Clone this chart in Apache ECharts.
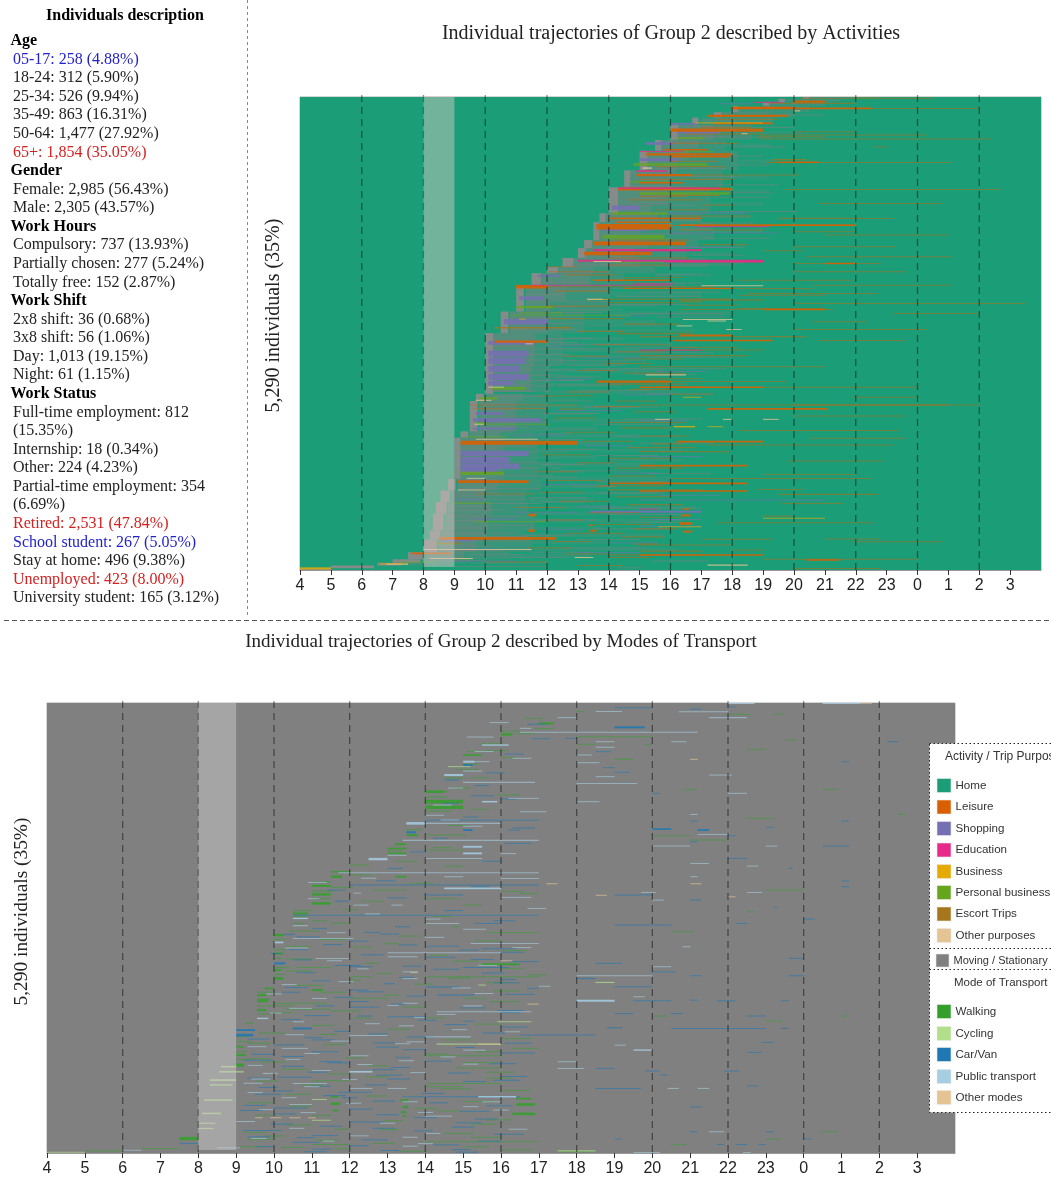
<!DOCTYPE html>
<html>
<head>
<meta charset="utf-8">
<style>html,body{margin:0;padding:0;background:#fff}#c{width:1051px;height:1177px}#c canvas{filter:blur(0.55px)}</style>
<script src="https://cdn.jsdelivr.net/npm/echarts@6/dist/echarts.min.js"></script>
</head>
<body>
<div id="c"></div>
<script>
// ---------- text ----------
const descTitle = "Individuals description";
const descRows = ["Age","05-17: 258 (4.88%)","18-24: 312 (5.90%)","25-34: 526 (9.94%)","35-49: 863 (16.31%)","50-64: 1,477 (27.92%)","65+: 1,854 (35.05%)",
"Gender","Female: 2,985 (56.43%)","Male: 2,305 (43.57%)",
"Work Hours","Compulsory: 737 (13.93%)","Partially chosen: 277 (5.24%)","Totally free: 152 (2.87%)",
"Work Shift","2x8 shift: 36 (0.68%)","3x8 shift: 56 (1.06%)","Day: 1,013 (19.15%)","Night: 61 (1.15%)",
"Work Status","Full-time employment: 812","(15.35%)","Internship: 18 (0.34%)","Other: 224 (4.23%)","Partial-time employment: 354","(6.69%)","Retired: 2,531 (47.84%)","School student: 267 (5.05%)","Stay at home: 496 (9.38%)","Unemployed: 423 (8.00%)","University student: 165 (3.12%)"];
const descHeads = ["Age","Gender","Work Hours","Work Shift","Work Status"];
const descBlue = ["05-17: 258 (4.88%)","School student: 267 (5.05%)"];
const descRed = ["65+: 1,854 (35.05%)","Retired: 2,531 (47.84%)","Unemployed: 423 (8.00%)"];
const titleTop = "Individual trajectories of Group 2 described by Activities";
const titleBottom = "Individual trajectories of Group 2 described by Modes of Transport";
const yLabel = "5,290 individuals (35%)";
const legendActivityTitle = "Activity / Trip Purposes";
const legendActivities = ["Home","Leisure","Shopping","Education","Business","Personal business","Escort Trips","Other purposes"];
const legendActivityColors = ["#1b9e77","#d95f02","#7570b3","#e7298a","#e6ab02","#66a61e","#a6761d","#e5c494"];
const legendMoving = "Moving / Stationary";
const movingColor = "#808080";
const legendModeTitle = "Mode of Transport";
const legendModes = ["Walking","Cycling","Car/Van","Public transport","Other modes"];
const legendModeColors = ["#33a02c","#b2df8a","#1f78b4","#a6cee3","#e5c494"];

// ---------- axes ----------
const hourMin = 4, hourMax = 28, totalIndividuals = 5290;
const gridHours = [6,8,10,12,14,16,18,20,22,24,26];
const highlightHours = [8,9];

// ---------- first departure from home: [rank from, rank to, start hour, end of first move] ----------
const firstDeparture = [[0,20,20.3,20.5],[20,60,19.5,19.7],[60,100,19,19.2],[100,170,18,18.2],[170,230,17.4,17.65],[230,310,16.7,16.9],[310,480,16,16.25],[480,600,15.5,15.7],[600,820,15,15.25],[820,1010,14.5,14.7],[1010,1300,14,14.3],[1300,1400,13.7,13.9],[1400,1600,13.5,13.7],[1600,1690,13.2,13.45],[1690,1800,13,13.25],[1800,1900,12.5,12.85],[1900,1970,12,12.35],[1970,2110,11.5,11.8],[2110,2400,11,11.25],[2400,2640,10.5,10.75],[2640,3320,10,10.25],[3320,3400,9.7,9.95],[3400,3740,9.5,9.75],[3740,3810,9.2,9.45],[3810,4270,9,9.2],[4270,4400,8.8,9.05],[4400,4530,8.55,8.85],[4530,4660,8.4,8.75],[4660,4850,8.3,8.65],[4850,4950,8.2,8.55],[4950,5090,8,8.45],[5090,5170,7.5,8],[5170,5210,7,7.9],[5210,5240,6.5,7.3],[5240,5270,5,6.4],[5270,5290,4,5]];

// ---------- top panel: [rank, individuals in band, start hour, end hour] ----------
const homeBase = [[2645,5290,4,28]];
const topMixed = [[10,20,20.5,22],[40,40,19.5,21.5],[85,30,19,21],[135,70,18.2,20.5],[200,60,17.6,20],[270,80,17,19.3],[395,170,16.2,18.6],[540,120,15.7,17.8],[710,220,15.2,18.2],[915,190,14.7,17.7],[1155,290,14.3,17.3],[1350,100,13.9,17],[1500,200,13.7,17.4],[1645,90,13.4,16.9],[1745,110,13.2,16.5],[1850,100,12.8,17.2],[1935,70,12.3,15.5],[2040,140,11.8,14.5],[2255,290,11.3,14],[2520,240,10.8,13.2],[2820,360,10.2,12.5],[3150,300,10.2,12.1],[3360,80,10,11.9],[3570,340,9.8,12],[3775,70,9.5,11.6],[4040,460,9.2,11.7],[4335,130,9.1,11.8],[4465,130,8.9,11.3],[4595,130,8.8,11.4],[4755,190,8.7,11.6],[4900,100,8.6,11.2],[5020,140,8.5,11.5],[5130,80,8.1,10.8],[5190,40,8,9.5],[5225,30,7.4,8.9]];
const topMixedFar = [[2700,40,12.5,14.5],[2760,30,12.4,16],[2830,50,12.5,15],[2900,30,12.5,17],[2980,40,12.4,14.6],[3060,50,12.1,15.8],[3130,30,12,13.8],[3220,40,12,14.4],[3300,40,11.9,16.2],[3380,30,11.9,13],[3460,50,12,14.8],[3540,30,11.9,13.5],[3620,40,12,16],[3700,30,12,13.6],[3790,40,11.6,15],[3870,50,11.7,14],[3950,30,11.7,16.4],[4030,40,11.7,13.6],[4110,50,11.7,15.5],[4190,30,11.7,13.2],[4270,40,11.8,16],[4350,40,11.8,14.2],[4430,30,11.3,15.6],[4510,50,11.4,13.5],[4590,30,11.4,16.8],[4660,30,11.6,14.6],[4740,40,11.6,16.4],[4820,30,11.4,13.8],[4900,40,11.2,15.8],[4980,40,11.5,14],[5060,30,11.5,16.2],[5130,40,10.8,13.4],[5210,30,9.5,12],[2100,40,14.5,16.5],[2200,50,14,17],[2330,30,14,15.6],[2420,40,14,18],[2520,50,13.2,15.5],[2610,30,13.2,16.8],[1980,30,15.5,17],[1850,40,17.2,18.4],[1750,30,16.5,18],[1500,40,17.4,19],[1340,30,17,18.6],[1200,40,17.3,19],[1050,30,17.7,19.2],[900,40,17.7,19.2],[720,40,18.2,19.4],[540,40,17.8,19.3],[400,30,18.6,20.3]];
const topNear = [[395,170,16.2,17.4],[540,120,15.7,16.9],[650,100,15.2,16.6],[770,140,15.2,16.2],[915,190,14.7,16],[1100,180,14.3,15.9],[1250,100,14.3,15.4],[1350,100,13.9,15.6],[1500,200,13.7,15],[1645,90,13.4,15.3],[1745,110,13.2,14.8],[1850,100,12.8,15],[1935,70,12.3,13.5],[2040,140,11.8,13.4],[2200,180,11.3,12.6],[2340,120,11.3,12.1],[2520,240,10.8,12],[2820,360,10.2,11.6],[3150,300,10.2,11.5],[3360,80,10,11.2],[3570,340,9.8,11],[3775,70,9.5,10.5],[4040,460,9.2,10.6],[4335,130,9.1,10.4],[4465,130,8.9,10],[4595,130,8.8,10.2],[4755,190,8.7,10.1],[4900,100,8.6,10],[5020,140,8.5,9.7],[5130,80,8.1,9.3]];
const topMoving = [[200,11,19.4,21],[450,11,17,19.3],[560,11,18,19.7],[760,11,18.1,19.2],[980,11,17.5,19.5],[1120,11,17.4,19.2],[1280,11,17.4,20.1],[1410,11,17,18.7],[1580,11,17,19.2],[1770,11,16.7,18.4],[1990,11,15.5,17.3],[2080,11,14.5,17],[2180,11,15,17.6],[2320,11,14,16.6],[2420,11,14.7,17.7],[2560,11,13.2,15.8],[2770,11,12.5,14.6],[2860,11,14,17.4],[2950,11,12.4,15.2],[3040,11,13.2,17.8],[3135,11,12.2,13.5],[3280,11,13,15.4],[3400,11,12,13.5],[3540,11,11.9,13.7],[3660,11,13.5,16.2],[3760,11,11.7,12.8],[3940,11,11.8,13.6],[4060,11,14,16.4],[4180,11,12.4,15],[4250,11,11.7,13],[4360,11,12.8,14.2],[4480,11,11.4,13.3],[4600,11,13.6,17],[4730,11,11.6,13.6],[4830,11,13.5,16],[4900,11,11.2,12.8],[5040,11,12.6,15.2],[5150,11,10.8,12.6],[5250,11,9,12],[5265,11,14.3,15.1],
[2700,11,12,13.5],[2800,11,14.5,16.8],[2910,11,15.3,18],[3000,11,12.6,14.4],[3100,11,14.8,16.8],[3220,11,12.3,14],[3320,11,15.2,17.4],[3470,11,13.2,15.6],[3600,11,14.4,17],[3720,11,12,13.6],[3800,11,14.2,16.2],[3870,11,15,17.4],[4010,11,13.6,15.6],[4110,11,11.8,13.2],[4210,11,15.2,17.3],[4300,11,13.6,16],[4430,11,13.6,15.8],[4530,11,11.8,13.2],[4670,11,14,16.6],[4760,11,14.6,16.2],[4950,11,13,15],[5090,11,11.5,13.4],[5190,11,15.4,17.2],[2460,11,15.5,17.8],[2380,11,12.4,14.4],[2230,11,14.2,17],[2140,11,12,14.6],[1880,11,16,18],[1680,11,16,18.4],[1480,11,14.4,17.2],[1210,11,14.6,16.8],[1070,11,17.8,19.3],[890,11,16,18.2],[660,11,17.4,19],[340,11,18.6,20]];
const topStripes = [[2720,11,10.3,12.6],[2745,11,11.6,13],[2790,11,10.3,11.6],[2815,11,11.6,13.8],[2880,11,11.4,12.8],[2940,11,11.4,13],[3000,11,11.3,12.4],[3050,11,11.1,12.9],[3110,11,11.4,12.6],[3170,11,11.4,13.2],[3230,11,10.9,12.2],[3290,11,10.3,11.6],[3350,11,10.3,12.2],[3430,11,9.8,11.4],[3500,11,9.8,11.2],[3570,11,10.2,11.5],[3640,11,9.8,12],[3690,11,9.8,11.4],[3745,11,9.5,10.8],[3830,11,11.7,13.2],[3905,11,9.2,11.6],[3930,11,9.2,10.4],[3970,11,11.4,12.6],[4030,11,9.2,10.8],[4090,11,10.8,12.4],[4150,11,11.1,12.5],[4195,11,9.2,10.2],[4230,11,10.6,12.2],[4280,11,9,10.6],[4340,11,9.1,10.8],[4380,11,9.1,11.8],[4420,11,8.9,10.4],[4460,11,8.9,11.3],[4500,11,10,11.6],[4545,11,10.2,11.8],[4580,11,8.8,10.2],[4620,11,8.7,10.6],[4690,11,8.7,11.2],[4735,11,8.6,10],[4790,11,10.1,11.6],[4820,11,8.6,10.6],[4880,11,8.6,10.8],[4915,11,10,11.4],[4965,11,9.6,11.5],[5020,11,8.4,10.2],[5075,11,8.5,10.6],[5120,11,9.5,11.2],[5180,11,8.1,10],
[2160,11,12.6,14],[2210,11,11.3,12.6],[2290,11,12.6,14],[2345,11,11.3,13],[2410,11,12.1,13.8],[2470,11,10.8,12.2],[2530,11,12,13.2],[2600,11,10.8,13],[2070,11,11.8,13.4],[1960,11,12.3,14],[1875,11,12.8,14.2],[1790,11,13.2,15],[1700,11,13.4,14.8],[1620,11,13.7,15],[1530,11,15,16.6],[1470,11,13.7,15.5],[1380,11,15.6,17],[1320,11,13.9,15],[1190,11,14.3,16],[1130,11,14.3,15.6],[1000,11,14.4,16.8],[850,11,14.7,16.2],[800,11,15.2,17.8],[630,11,15.7,17.3],[500,11,15.9,17.2],[440,11,16.2,17.8],[330,11,16.5,18],[260,11,16.9,18.2],[180,11,17.6,19.2]];
const topLeisure = [[15,11,20.2,22],[15,11,22.7,24.5],[52,25,20,21],[71,14,19.2,22],[120,22,18,20],[127,20,18,22.5],[127,9,22.5,26],[209,22,17.2,19.8],[213,16,17.4,19.4],[295,18,17.4,19.3],[370,36,16,19],[388,10,20,22],[425,10,18.9,24.3],[444,10,18.8,21],[470,10,18.9,26.4],[556,10,22.6,23],[642,26,15.2,18],[668,20,16,17.9],[724,10,19.3,20.8],[731,10,19.1,25.1],[731,16,19.5,20.8],[873,25,14.9,16.7],[873,10,16.7,20.2],[1030,30,14.3,18],[1033,10,19.7,26.7],[1190,10,20.8,24.8],[1209,12,17,18],[1358,20,14,17],[1358,14,19.5,22.2],[1358,10,22.2,23.2],[1433,18,16.3,22],[1436,11,16,21],[1451,60,13.6,16],[1488,12,16.3,19],[1507,10,20,22],[1544,10,21,25],[1637,40,13.5,16.5],[1675,10,20,23.3],[1720,12,19,20.3],[1750,40,13.2,15.4],[1787,10,20.4,25.1],[1843,14,16.3,19],[1862,16,21,22],[1862,10,20,22.8],[1899,11,12,13],[1955,11,12,14],[1955,10,20,23.6],[2048,10,18.2,21.9],[2104,10,20.6,25.1],[2122,40,11,12],[2122,11,12,17.4],[2140,16,14.5,18],[2142,12,16.3,20.6],[2197,10,18.5,22.7],[2216,11,18.2,21],[2260,14,14,18],[2272,12,16.3,19],[2309,10,20,27.5],[2365,11,18.2,21],[2376,16,19,21],[2376,10,16.3,21.3],[2421,10,23.2,26],[2514,10,20.6,22.4],[2600,10,20,24.3],[2645,14,14.3,16.7],[2664,16,16.3,18],[2680,14,15,20.4],[2724,18,16.1,19.3],[2724,10,20.8,23.6],[2735,25,10.3,12],[2828,10,15.5,19],[2892,14,15,18.5],[3015,10,15,21],[3183,25,13.6,16],[3183,11,15,19.8],[3239,14,15.6,17],[3246,16,15,19],[3246,10,19,24],[3325,12,16,17.4],[3358,10,21.9,24],[3444,11,9.5,13],[3444,14,20,25],[3444,10,15,26],[3482,14,9.6,12],[3489,20,17.2,21.1],[3567,10,20,23.6],[3728,10,18.2,23.4],[3817,10,20.5,23.6],[3855,20,16.2,19],[3866,45,9.2,13],[3892,10,17.2,23.2],[3966,12,15,17.9],[4071,10,19.8,22.9],[4123,18,15,18.5],[4220,10,19,22],[4265,10,16,22.5],[4302,30,9.1,11.4],[4320,16,14,16],[4321,18,15,18.5],[4388,10,18.8,20.3],[4395,14,14,17],[4407,16,15,18.5],[4440,12,9.7,11.6],[4444,14,19.5,22.7],[4545,10,19.6,21.6],[4610,16,16.4,16.6],[4675,30,11.4,11.65],[4680,22,16.35,16.65],[4686,10,19,20],[4761,10,17.5,22.6],[4770,30,16.3,16.7],[4790,16,13.35,13.5],[4850,30,11.4,11.6],[4850,22,13.4,13.6],[4860,22,16.4,16.7],[4936,30,8.5,12.3],[4944,10,21,22.8],[4947,12,17,19.3],[4974,10,21.9,24.8],[5010,11,15,18],[5067,11,18,19],[5105,20,7.6,8.9],[5120,14,14,17],[5123,18,15,19],[5168,10,19,24],[5178,16,20.4,21.5],[5272,10,20,22.8]];
const topLeisureExtra = [[2770,11,13.5,16],[2800,11,16,18.2],[2850,11,14.2,15.8],[2900,11,12.5,14],[2930,11,14.5,16.4],[2980,11,13.8,15.4],[3060,11,13,14.3],[3090,11,14.5,16.5],[3150,11,15.2,17],[3210,14,14,16.5],[3270,14,14.7,16],[3300,11,12.6,14],[3340,11,11.8,13.5],[3400,11,14.2,15.5],[3460,11,13.5,15],[3520,11,14.8,16.2],[3590,11,12.2,13.6],[3640,11,14,16.5],[3700,14,14.4,16],[3750,11,12.6,14.2],[3790,11,15,16.6],[3850,11,13.2,14.8],[3920,14,14.6,16.8],[4000,11,11.8,13.4],[4040,11,14,16],[4090,11,13,14.2],[4150,14,14.2,16.4],[4190,11,11.6,13],[4240,11,14,15.5],[4290,11,12,13.8],[4350,14,13.6,15.8],[4420,11,11.8,13.2],[4470,11,14.2,16],[4520,11,12.4,14],[4560,14,14.6,16.4],[4590,11,11,12.6],[4650,11,13.4,15],[4700,11,15,16.4],[4730,11,12,13.2],[4780,11,13.6,15.4],[4830,14,14.8,16.2],[4880,11,12.6,14.5],[4920,14,14.4,15.8],[4970,11,12.2,13.4],[5000,14,14.8,15.6],[5040,11,11.4,12.8],[5080,14,15,17],[5110,11,12.6,14],[5150,11,14,15.4],[5200,11,10,12],[5240,11,13,14.5],
[2050,16,13.5,16],[2300,14,14,16.2],[2340,14,12,14],[2480,14,12,14.5],[2540,14,14.5,16.3],[2620,14,13,14.5],[2330,11,16.5,18.2],[2170,14,12.2,14],[2020,11,14.5,16.4],[1990,14,12.6,14.2],[1880,14,14,16],[1800,14,14,16.6],[1600,14,14.2,16.6],[1650,14,17,18.5],[1400,16,14.2,16],[1330,11,16,18.6],[1260,11,15.5,17.2],[1150,14,14.6,17],[1110,14,15,16.5],[960,16,15,16.4],[920,14,15,18],[780,14,15.5,17.8],[720,14,16,17.5],[590,16,15.8,17.2],[520,14,16,18.2],[415,14,16.5,19],[340,14,17,18.6],[250,14,17.5,19.5]];
const topShopping = [[75,12,17.6,18.6],[300,20,16,16.9],[395,24,16.2,17.6],[520,30,15.2,16.1],[700,30,15,16.3],[1020,11,15,17.2],[1239,50,14.1,15],[1300,14,15,18.5],[1488,20,13.8,15.3],[1520,11,16,19.5],[1680,12,16,18],[2000,20,11.7,12.4],[2250,40,11.1,11.9],[2514,60,10.6,12],[2450,12,14,15.2],[2750,40,10.1,11.6],[2870,70,10.1,11.4],[2950,70,10.1,11.3],[3040,70,10.1,11.1],[3130,70,10.1,11.4],[3200,50,10.1,10.9],[3540,30,9.7,10.6],[3612,40,9.6,11.8],[3710,20,9.6,11],[3985,60,9.2,11.4],[4060,70,9.2,10.8],[4130,60,9.2,11.1],[4170,40,9.2,10.4],[4507,11,15,21],[4500,14,9,10],[4638,22,13.4,17],[4645,12,11,13],[4720,14,9.5,11],[4800,12,15,17],[4960,20,8.6,9.6],[5060,14,9.1,10.4],[5190,12,9,11],
[2785,11,12,13.2],[2920,11,13.2,15],[3070,11,15.5,17.2],[3160,11,12,13.4],[3330,11,14.4,16],[3505,11,12.2,14.4],[3620,11,15,16.6],[3780,11,11,12.6],[3900,11,13.2,14.8],[4020,11,15,17],[4205,11,14.2,15.6],[4330,11,11.8,13.6],[4455,11,15.6,17.6],[4578,11,13,14.2],[4725,11,15.4,17],[4840,11,11.8,13.2],[4985,11,14,15.6],[5095,11,13,15]];
const topEducation = [[60,14,18.7,19.6],[610,12,15,16.4],[828,18,14.9,15.9],[1020,16,14.3,17.6],[1450,12,16.8,19.2],[1712,25,13.5,17],[1720,12,15,16.6],[1832,22,13,19],[1843,18,15.8,19],[2105,11,11.5,16],[2090,12,14.8,16.1],[2830,14,15,17],[4610,12,15,15.6]];
const topPersonal = [[460,20,16.2,17.1],[612,14,16,17.4],[755,30,14.8,17.2],[950,16,14.7,16],[1078,28,15,17.9],[1302,28,14.1,15.9],[1563,40,13.8,15.8],[1590,14,14,16],[1850,12,14.2,15.8],[2350,25,11,12.2],[2414,12,11.1,12.5],[2440,12,10.8,14.7],[3258,30,10.2,11.3],[3370,25,9.8,10.4],[3650,24,9.7,10],[3660,12,10,12.1],[3800,14,9.4,10.7],[4209,35,9.2,10.6],[4545,12,9,10.2],[4750,14,9.6,12],[5000,12,8.4,9.2],[5200,12,7.2,8.4],[5165,10,9,9.5]];
const topBusiness = [[290,14,16.8,19],[2264,10,13.3,14],[3358,11,16.4,17],[3687,16,16.1,16.8],[3687,10,17.2,17.7],[4712,10,19,21],[4806,10,15.6,17],[5220,14,6.6,7.5],[5272,24,4,5],[2485,12,11.1,11.3]];
const topEscort = [[12,14,22,22.7],[700,12,19.3,20.4],[1100,12,16,17.6],[2290,12,16.3,17],[2580,16,10.3,12.8],[3490,12,12.4,13.2],[3880,12,15.4,16.4],[4990,14,8.4,9.2]];
const topOther = [[155,12,20,20.2],[410,11,18.3,18.5],[795,16,15.1,15.4],[1840,11,13.5,14.4],[2110,11,17,19],[2260,8,13.3,13.8],[2488,11,16.4,18],[2505,11,17.2,17.8],[2560,11,16.2,16.7],[2600,11,17.8,18.3],[2760,10,11.3,11.55],[3109,14,15.2,16.5],[3245,11,10.1,10.6],[3392,12,9.7,10.2],[3605,11,15.5,16],[3605,11,17.7,18],[3605,11,19,19.5],[3660,12,9.65,9.95],[3828,11,9.7,11.7],[4265,11,9.4,10],[4395,11,9.1,10],[5060,11,8,11.5],[5160,11,8.2,9.6],[5235,14,17.2,18.5],[5225,11,6.8,7.5],[5150,11,12.9,13.5]];

// ---------- bottom panel: [rank, individuals in band, start hour, end hour] ----------
const movingBase = [[2645,5290,4,28]];
const botWalk = [[369,30,16,16.3],[396,12,18,20],[612,20,15,15.5],[240,24,17,17.4],[133,12,22,22.6],[133,12,23.2,23.5],[100,12,18,18.2],[486,12,18,18.5],[486,12,19.8,20],[435,12,23.5,23.8],[545,12,22.5,23],[662,14,19,19.5],[1015,12,20.8,21.2],[1015,12,24.5,24.9],[1043,30,14,14.5],[1160,44,14,15],[1225,40,14,15],[1310,12,26.5,26.7],[1356,12,22.5,23.2],[1553,24,13.5,13.8],[1553,12,14,15.1],[1560,12,20,21],[1611,12,21,22],[1660,24,13.2,13.5],[1729,12,14,15],[1710,20,13,13.5],[1768,20,13,13.5],[1905,14,12,12.5],[1984,16,11.5,12],[2042,30,11.5,11.8],[2042,20,13.2,13.5],[2100,14,11.3,11.5],[2150,26,11,11.5],[2199,12,12.6,13.5],[2199,12,23,24],[2215,12,16,16.6],[2250,30,11,11.5],[2300,12,14,14.9],[2356,30,11,11.5],[2376,12,15,15.5],[2454,12,22.5,22.7],[2474,24,10.5,10.9],[2560,12,11,11.4],[2630,12,14.7,14.9],[2689,12,20.5,21.1],[2697,12,15.6,17],[2728,30,10,10.25],[2860,12,10.3,11],[2944,22,10,10.25],[3070,24,15.5,16.5],[3140,22,10,10.2],[3218,12,14,17],[3218,12,12,12.6],[3238,30,10,10.25],[3285,12,15.6,16.2],[3355,20,9.75,10],[3375,24,11,11.3],[3434,26,9.55,9.8],[3500,36,9.55,9.85],[3610,26,9.55,9.8],[3680,12,20,20.4],[3680,12,25,25.2],[3600,12,10.3,11.5],[3739,12,23,23.4],[3767,14,9.25,9.45],[3470,12,12,13],[3530,12,10,11.4],[4041,20,9,9.2],[4139,22,9,9.25],[4147,12,14,16],[4257,40,9,9.2],[4473,12,14,16],[4440,12,11,12],[4630,24,11.5,11.7],[4650,20,16.4,16.8],[4670,24,13.35,13.55],[4710,30,11.5,11.75],[4720,30,16.4,16.9],[4750,26,13.4,13.55],[4790,24,11.55,11.7],[4810,24,13.35,13.5],[4830,30,16.3,16.9],[4855,20,13.4,13.5],[5040,12,24.5,24.9],[5127,12,23,23.4],[5120,40,7.5,8],[5158,12,14,17],[5190,12,20.5,20.9],[5218,12,15,15.7],[5237,14,6.5,7.5],[5265,10,5,6],[5276,12,17.5,18.5],[5190,12,11,12],[5240,12,11.6,12]];
const botWalkExtra = [[180,12,16.6,17.1],[300,12,16.9,17.4],[360,12,16.4,16.9],[560,12,15.6,16.2],[640,12,16,16.4],[780,12,14.8,15.4],[880,12,15.2,15.7],[1000,12,14.7,15.2],[1080,12,15.9,16.5],[1250,12,15.2,15.7],[1440,12,14.6,15.1],[1700,12,14.2,14.7],[1860,12,13.2,13.8],[1920,12,14.5,15],[2020,12,12,12.6],[2120,12,13.6,14.2],[2170,12,11.5,12.1],[2240,12,16.5,17],[2330,12,12.3,12.9],[2430,12,11.8,12.2],[2510,12,14.2,14.7],[2590,12,11.5,12],[2680,12,10.4,11.2],[2780,12,11.2,11.9],[2830,12,12.9,13.3],[2910,12,16,16.7],[3010,12,10.3,11],[3060,12,12.4,12.8],[3110,12,10.6,11.5],[3150,12,10.3,11],[3195,12,16.7,17.2],[3260,12,12,12.3],[3320,12,10.5,11.3],[3400,12,11.2,11.9],[3470,12,15,15.6],[3560,12,9.9,10.5],[3620,12,11.5,12.3],[3700,12,14,14.5],[3790,12,11,11.6],[3880,12,9.6,10.3],[3960,12,14.5,15.2],[4000,12,9.3,9.9],[4100,12,15.3,16],[4170,12,11.9,12.4],[4220,12,9.6,10.3],[4290,12,14.8,16],[4360,12,11.4,12],[4410,12,15.6,16.3],[4510,12,14,15],[4555,12,16,16.8],[4600,12,10.3,11],[4700,12,9.3,10],[4765,12,13.7,14.3],[4850,12,11,11.5],[4900,12,15.6,16.3],[4960,12,10.3,11],[5010,12,11.6,12],[5060,12,14.5,15.3],[5090,12,9.7,10.3],[5140,12,11.1,11.7],[5215,12,9.1,9.8],[5255,12,16,16.8],
[330,12,16,16.5],[480,14,15.5,16],[570,12,15.1,15.6],[720,14,15,15.4],[880,14,14.5,15],[1040,14,14,14.6],[1105,14,14,14.6],[1270,14,14,14.7],[1490,14,13.5,13.9],[1740,12,13,13.4],[2110,14,11,11.4],[2210,14,11,11.6],[2300,14,11,11.5],[2440,14,10.5,11],[2510,14,10.5,10.9],[2590,14,10.5,10.8],[2780,14,10,10.3],[2900,14,10,10.3],[3000,14,10,10.2],[3110,14,10,10.4],[3190,14,10,10.3],[3400,14,9.55,10],[3480,14,9.55,9.9],[3560,14,9.55,9.9],[3655,14,9.55,9.9],[3920,14,9,9.3],[3980,14,9,9.4],[4100,14,9,9.3],[4190,14,9,9.35],
[2740,12,13.3,13.9],[2795,12,15.3,16],[2870,12,12.1,12.6],[2965,12,14.1,14.6],[3035,12,14.7,15.4],[3120,12,16,16.6],[3180,12,12.7,13.1],[3235,12,14.6,15.2],[3305,12,13.7,14.2],[3385,12,15.8,16.5],[3435,12,12.9,13.3],[3510,12,15.7,16.5],[3575,12,13.4,14],[3640,12,10,10.5],[3705,12,12.1,12.6],[3775,12,15.3,16],[3835,12,13,13.6],[3895,12,11.2,11.7],[3945,12,16,16.8],[4015,12,11.3,11.9],[4060,12,16.3,17],[4125,12,14,14.6],[4180,12,9.3,9.9],[4225,12,15,15.9],[4265,12,12.5,13],[4305,12,10.2,10.9],[4340,12,15.6,16.4],[4395,12,12.4,13],[4445,12,9.5,10.1],[4490,12,10.7,11.3],[4535,12,14.4,15.2],[4620,12,12.4,13],[4685,12,15,15.8],[4740,12,10.4,11],[4795,12,14.3,14.9],[4845,12,9.5,10],[4910,12,12.9,13.4],[4950,12,15.2,15.9],[5015,12,12.8,13.3],[5050,12,9.2,9.8],[5105,12,15.2,16],[5130,12,9.3,10],[5175,12,12.6,13.2],[5225,12,10.2,10.8],[5270,12,13.3,14]];
const botCycle = [[748,12,14.6,15.2],[3316,12,15.4,15.6],[3747,12,15.9,16.8],[3285,14,18.5,19],[4010,12,14.3,16],[4335,20,8.55,9.2],[4433,22,8.3,9],[4490,18,8.3,8.9],[4668,20,8.15,8.9],[4825,20,8.1,8.6],[4940,16,8,8.45],[5002,16,8,8.4],[4275,20,8.6,9],[5280,12,4,5],[5265,12,17.5,18.5],[4660,12,11,11.4],[4905,12,11,11.5]];
const botCar = [[55,12,19,20],[70,12,21,21.3],[45,12,22,22.2],[286,24,19,19.8],[416,12,17.7,18],[455,12,26.2,26.5],[572,12,18.5,18.9],[690,12,25,25.2],[730,22,15,15.25],[760,12,18.7,19],[815,12,19,19.4],[905,14,14.5,14.9],[1062,12,20,20.2],[1130,12,16,16.4],[1388,12,21,21.2],[1388,12,25,25.2],[1376,10,14,17],[1462,12,23,23.2],[1482,20,20,20.5],[1494,22,21.2,21.5],[1494,22,15,15.25],[1494,12,16.2,16.5],[1520,24,13.5,13.75],[1560,12,22,22.2],[1630,12,21,21.2],[1650,12,16.1,16.8],[1682,12,24.5,25.2],[1827,12,22,22.5],[1944,12,13,13.4],[1944,12,23.6,23.7],[2093,12,25,25.2],[2140,10,12,17],[2160,12,25,25.2],[2258,12,19,20],[2258,12,14,15],[2317,12,21,21.3],[2400,12,23.2,23.3],[2493,10,10.5,17],[2540,12,24,24.3],[2591,12,22.2,22.5],[2591,12,15.3,16],[2610,12,19,20.5],[2630,12,13.2,13.6],[2697,12,12.4,12.8],[2722,14,10.25,10.55],[2860,12,14,14.9],[2890,12,15.5,16.4],[2990,12,14,14.8],[3002,12,23.6,24],[3061,24,10,10.3],[3061,12,18.5,19.2],[3110,12,15,16.2],[3100,12,12,12.6],[3160,12,20,20.6],[3206,12,21,21.3],[3206,12,23.6,24],[3238,14,18,18.5],[3336,12,19,20],[3340,12,14,14.9],[3355,12,16.7,17],[3375,12,12,12.5],[3434,12,14.3,15.3],[3493,12,21,21.2],[3500,12,19.5,20.5],[3500,12,21.7,22.2],[3500,12,23.4,23.6],[3510,12,12,12.5],[3560,12,11.1,11.6],[3650,12,19,19.5],[3650,12,20.5,20.8],[3680,12,22.5,23],[3689,12,13,14],[3680,12,12.2,12.6],[3740,12,15,15.3],[3818,14,18.8,19.2],[3826,22,10.5,11],[3826,10,20.5,23],[3826,12,23.4,23.6],[3845,22,9,9.5],[3904,30,9,9.45],[3904,12,16.5,18.5],[3925,12,13.5,14.2],[3960,12,11,11.6],[3990,12,22.9,23.2],[4020,12,10,10.8],[4075,12,13.4,14],[4108,12,22.5,22.9],[4200,12,9.2,10],[4210,12,14,14.7],[4230,12,11.4,12],[4296,12,18.5,19],[4327,12,19.8,20.2],[4327,12,21.9,22.3],[4374,12,20.2,20.4],[4400,12,10.1,11],[4420,12,13,13.6],[4500,12,22.5,22.8],[4531,12,18.5,19.7],[4560,12,10,10.5],[4575,12,11.7,12.6],[4629,14,13.4,16.5],[4747,12,21,21.3],[4760,12,10,10.9],[4800,12,14.9,15.7],[4925,12,12,12.9],[4985,12,14.7,15.3],[5025,12,9.2,10.2],[5040,12,21,21.2],[5040,12,23,23.2],[5085,12,11,11.7],[5127,12,24,24.2],[5127,12,19,19.2],[5178,14,7.5,8],[5190,12,21.7,21.9],[5190,12,22.2,22.5],[5190,12,22.8,23],[5195,12,14.2,14.9],[5245,12,11,11.5],[5280,12,14.8,15.4]];
const botCarExtra = [[2750,12,10.6,11.2],[2800,12,12,12.5],[2840,12,11.3,11.8],[2900,12,10.4,10.9],[2930,12,16,16.6],[2960,12,12.3,12.9],[3020,12,10.5,11],[3040,12,16.2,17],[3085,12,11.6,12.3],[3130,12,14.2,14.9],[3170,12,10.6,11.1],[3250,12,16,16.4],[3265,12,11,11.5],[3300,12,12.9,13.2],[3400,12,10.2,10.7],[3425,12,16.1,16.9],[3460,12,11.6,12.1],[3540,12,13.1,13.5],[3585,12,14.9,15.6],[3640,12,16,16.5],[3720,12,10.2,10.7],[3780,12,14.5,15.1],[3860,12,11.6,12],[3880,12,15.5,16.1],[3950,12,9.3,9.9],[4000,12,16.1,16.8],[4045,12,12.7,13.3],[4100,12,11,11.7],[4130,12,9.4,10],[4165,12,13.2,13.6],[4240,12,15.7,16.4],[4270,12,10.2,10.8],[4310,12,12.6,13.2],[4350,12,14.6,15.2],[4390,12,16,16.7],[4410,12,9.3,9.9],[4450,12,15,15.6],[4505,12,11,11.5],[4600,12,9.5,10.2],[4640,12,11.8,12.2],[4700,12,14.1,14.6],[4730,12,9.2,9.8],[4775,12,12,12.6],[4830,12,10,10.6],[4890,12,15.3,15.9],[4950,12,9.9,10.5],[5000,12,12.6,13.2],[5070,12,15.8,16.6],[5100,12,9.3,9.9],[5135,12,12.3,13],[5165,12,10.5,11.2],[5215,12,9.5,10],[5260,12,12.8,13.3],[5275,12,10.8,11.4],
[2090,12,12.7,13.2],[2160,12,15.2,15.7],[2200,12,11.4,11.9],[2290,12,13,13.5],[2330,12,11.6,12],[2440,12,14.5,15],[2560,12,15.8,16.4],[2650,12,11,11.4],[1750,12,13.6,14],[1860,12,15.5,16],[1590,12,14.2,14.6],[1470,12,16.3,16.9],[1340,12,15,15.4],[1180,12,14.5,14.9],[1090,12,15.2,15.8],[970,12,15.3,15.7],[820,12,15.6,16.1],[600,12,16.1,16.6],[420,12,16.8,17.3],[250,12,16.7,17.2],
[2715,12,12.8,13.3],[2845,12,13.3,13.8],[2905,12,14.9,15.4],[2945,12,9.9,10.2],[3015,12,15.2,15.8],[3095,12,13.4,13.9],[3175,12,15.5,16.1],[3225,12,13.3,13.7],[3290,12,15.8,16.5],[3345,12,10.3,10.9],[3395,12,12.2,12.9],[3445,12,13.5,14],[3575,12,12,12.8],[3615,12,15.9,16.6],[3675,12,10.8,11.5],[3730,12,13.8,14.3],[3810,12,16,16.7],[3890,12,12.5,13],[3935,12,10.8,11.3],[3995,12,12.6,13.2],[4050,12,14.8,15.3],[4115,12,16,16.9],[4155,12,10.2,10.8],[4215,12,11.2,11.8],[4285,12,13.1,13.6],[4340,12,10.9,11.4],[4375,12,12.7,13.4],[4435,12,15.8,16.5],[4490,12,12.4,13],[4520,12,9.6,10.1],[4590,12,13.9,14.5],[4615,12,11.3,11.9],[4680,12,12.6,13.2],[4735,12,15.6,16.3],[4790,12,9.1,9.7],[4840,12,12.7,13.3],[4875,12,13.7,14.3],[4935,12,14.8,15.5],[4975,12,11.2,11.8],[5030,12,13.7,14.2],[5110,12,10.6,11.1],[5150,12,15.4,16],[5205,12,12,12.5],[5250,12,14.7,15.2]];
const botPublic = [[4,16,22,22.7],[4,16,24.5,25.5],[100,12,18.5,19.2],[102,12,20.7,22],[172,12,17.5,18],[172,12,21.5,22.5],[298,12,16.5,16.8],[345,12,16.5,21.2],[455,12,18.5,19],[455,12,20.5,20.9],[494,16,15.5,16.2],[520,12,18.5,19],[611,12,18,18.4],[690,24,15,15.3],[690,12,15.3,15.7],[702,12,18,18.6],[847,24,14.5,15],[847,12,21.5,22.1],[866,12,18.5,19],[933,12,15,16.9],[945,12,18,19.6],[1062,12,22,22.5],[1121,12,16.2,17],[1160,18,15.5,15.9],[1160,12,18,18.6],[1278,12,16.5,17.2],[1310,12,21,21.2],[1320,12,14,14.5],[1415,30,13.5,14],[1415,12,14,16],[1449,12,15,15.5],[1545,12,21.2,22],[1615,12,13.4,17],[1682,12,20,21],[1682,12,23,23.3],[1690,22,15,15.5],[1768,22,15,15.5],[1790,14,13,13.5],[1827,12,14,15.5],[1835,28,12.5,13],[1886,12,21,21.5],[1917,12,22.5,22.8],[1995,12,11.7,17],[2042,12,14.5,15],[2042,12,21,21.2],[2062,12,16,17],[2180,20,14.5,16],[2227,12,22.5,22.9],[2227,12,19.7,20.1],[2235,12,12.1,12.3],[2285,12,16,16.8],[2317,12,20,20.3],[2376,12,12.1,12.5],[2376,12,13.1,13.4],[2415,12,16.7,17.2],[2532,16,10.5,10.9],[2540,12,14,14.4],[2591,12,14,14.9],[2618,14,10.5,10.9],[2768,12,10.5,12.1],[2815,20,10,10.25],[2826,12,15.2,17],[2865,12,20.8,21],[2936,12,13,16],[2983,12,13,13.8],[3003,12,11.1,12],[3100,12,20,20.5],[3160,12,13.4,13.8],[3206,14,18,20],[3330,12,17,17.3],[3453,12,19.5,19.8],[3473,12,11,11.4],[3500,22,18,19],[3530,12,13.4,13.8],[3560,12,15,15.5],[3630,12,14.3,16.8],[3696,12,13.7,14],[3708,16,9.55,9.85],[3747,12,10.5,10.8],[3908,12,12,13],[3925,12,14,15.2],[3983,12,13.5,14],[4022,12,19,19.3],[4060,12,10.2,10.9],[4080,16,19.5,20],[4081,12,15,15.6],[4147,12,12,12.5],[4190,12,10.3,10.7],[4217,12,17.5,18],[4245,12,15,15.4],[4296,12,17.5,18.2],[4335,20,12,12.6],[4355,14,9.7,10.1],[4473,12,10.5,11.4],[4531,12,12,12.6],[4531,12,13,13.5],[4531,12,20.4,20.7],[4531,12,21.2,21.5],[4629,20,15.4,16.4],[4688,12,13.4,13.8],[4688,12,15.5,16],[4745,12,15,15.4],[4813,12,13.8,14.2],[4857,12,14,14.7],[5040,12,21.5,21.9],[5060,12,14,14.4],[5088,12,12,12.5],[5180,12,13.8,14.2],[5257,10,6,6.5],[5285,12,19.5,20.2],[5285,12,22.4,22.6]];
const botPublicExtra = [[230,12,15.7,16.2],[400,12,15.1,15.8],[570,12,15.3,15.8],[650,12,16.3,16.8],[800,12,15,15.5],[1000,12,14.6,15],[1200,12,14.2,14.7],[1375,12,14.4,14.9],[1770,12,16,16.4],[2060,12,12.3,12.7],[2110,12,10.9,11.4],[2300,12,10.9,11.2],[2480,12,12.4,12.8],[2660,12,15,15.6],[2700,12,11.4,11.9],[2880,12,10.3,10.9],[3030,12,11.4,11.8],[3125,12,12.2,12.5],[3240,12,13.4,13.8],[3310,12,10.2,10.6],[3350,12,14.7,15.2],[3420,12,9.8,10.2],[3590,12,10.4,11],[3660,12,14.3,14.8],[3770,12,12.4,12.8],[3840,12,14.7,15.1],[3900,12,10.3,10.8],[3975,12,11.5,12],[4040,12,9.3,9.8],[4120,12,10.8,11.2],[4205,12,13.3,13.7],[4260,12,9.3,9.7],[4320,12,11,11.5],[4420,12,9.4,9.9],[4470,12,9.2,9.7],[4580,12,9.3,9.7],[4720,12,10.4,11],[4780,12,9.6,10],[4920,12,9,9.5],[5000,12,10.4,10.8],[5120,12,9.4,9.8],[5150,12,11.3,11.6],[5230,12,8.5,9.1],[5210,12,13.4,13.8],
[2755,12,14,14.5],[2875,12,16.3,16.8],[3085,12,15.4,15.9],[3275,12,11.7,12.1],[3415,12,15.3,15.8],[3555,12,13,13.3],[3645,12,9.9,10.2],[3795,12,13.3,13.7],[3865,12,16.1,16.5],[4005,12,13.2,13.6],[4160,12,14.4,14.8],[4250,12,12.2,12.6],[4345,12,13.6,14],[4425,12,11.8,12.2],[4510,12,10.8,11.2],[4640,12,10.2,10.6],[4705,12,11.9,12.3],[4785,12,15.8,16.2],[4815,12,10.7,11.1],[4940,12,12.8,13.2],[5010,12,16.2,16.7],[5105,12,13.4,13.8]];
const botOther = [[4,12,25.5,25.8],[662,12,21,21.2],[2125,12,21,21.3],[2278,12,22,22.2],[4010,12,15.4,16],[4876,12,9.5,9.7],[4876,12,9.9,10.2],[4876,12,10.4,10.7],[4876,12,10.9,11.1],[3030,12,16,16.3],[3540,12,16.7,17],[2125,12,17.2,17.5],[2260,12,18.5,18.8],[3170,12,13.6,13.8]];

// ---------- colours by category, taken from the legend ----------
const [cHome,cLeisure,cShopping,cEducation,cBusiness,cPersonal,cEscort,cOther] = legendActivityColors;
const [cWalk,cCycle,cCar,cPublic,cOtherMode] = legendModeColors;

function bandItem(opacityThin, opacityThick){
  return function(params, api){
    const rank = api.value(0), t = api.value(1);
    const a = api.coord([api.value(2), rank - t/2]);
    const b = api.coord([api.value(3), rank + t/2]);
    const cs = params.coordSys;
    const shape = echarts.graphic.clipRectByRect(
      {x:a[0], y:a[1], width:b[0]-a[0], height:Math.max(b[1]-a[1],1)},
      {x:cs.x, y:cs.y, width:cs.width, height:cs.height});
    return shape && {type:'rect', shape, style:{fill:api.visual('color'), opacity:t<16?opacityThin:opacityThick}};
  };
}
function bands(g, name, color, data, z, thin, thick){
  return {type:'custom', name, coordinateSystem:'cartesian2d', xAxisIndex:g, yAxisIndex:g,
    data, z, itemStyle:{color}, encode:{x:[2,3], y:0}, renderItem:bandItem(thin, thick), silent:true, animation:false};
}
function departureSeries(g, color, z, opacity){
  return {type:'custom', coordinateSystem:'cartesian2d', xAxisIndex:g, yAxisIndex:g, data:firstDeparture, z, silent:true, animation:false,
    renderItem(p, api){
      const a = api.coord([api.value(2), api.value(0)]), b = api.coord([api.value(3), api.value(1)]);
      return {type:'rect', shape:{x:a[0], y:a[1], width:b[0]-a[0], height:b[1]-a[1]}, style:{fill:color, opacity}};
    }};
}
function gridSeries(g){
  return {type:'custom', coordinateSystem:'cartesian2d', xAxisIndex:g, yAxisIndex:g, data:gridHours.map(h=>[h]), z:8, silent:true, animation:false, clip:false,
    renderItem(p, api){
      const a = api.coord([api.value(0), 0]), b = api.coord([api.value(0), totalIndividuals]);
      return {type:'line', shape:{x1:a[0], y1:a[1]-2, x2:b[0], y2:b[1]}, style:{stroke:'rgba(0,0,0,0.45)', lineWidth:1.3, lineDash:[7,5]}};
    }};
}
function highlightSeries(g, fill, opacity){
  return {type:'custom', coordinateSystem:'cartesian2d', xAxisIndex:g, yAxisIndex:g, data:[highlightHours], z:9, silent:true, animation:false, clip:false,
    renderItem(p, api){
      const a = api.coord([api.value(0), 0]), b = api.coord([api.value(1), totalIndividuals]);
      return {type:'rect', shape:{x:a[0], y:a[1]-1, width:b[0]-a[0], height:b[1]-a[1]-2}, style:{fill, opacity}};
    }};
}
const xAxisBase = g => ({type:'value', gridIndex:g, min:hourMin, max:hourMax, interval:1,
  axisLine:{show:true, onZero:false, lineStyle:{color:'#999', width:1}},
  axisTick:{show:true, length:5, lineStyle:{color:'#333', width:1}},
  axisLabel:{show:true, showMaxLabel:false, margin:8, fontFamily:'Liberation Sans', fontSize:16, color:'#222', hideOverlap:false, formatter:v=>String(v%24)},
  splitLine:{show:false}});
const yAxisBase = g => ({type:'value', gridIndex:g, inverse:true, min:0, max:totalIndividuals, show:false});

const series = [
  // top panel
  bands(0,'Home',cHome,homeBase,1,1,1),
  bands(0,'Mixed',movingColor,topMixed,2,.3,.3),
  bands(0,'Mixed far',movingColor,topMixedFar,2,.2,.2),
  bands(0,'Mixed near',movingColor,topNear,2,.35,.35),
  departureSeries(0,'#8a8a8a',3,.95),
  bands(0,'Moving',movingColor,topMoving.concat(topStripes),4,.55,.7),
  bands(0,'Shopping',cShopping,topShopping,5,.6,.9),
  bands(0,'Personal business',cPersonal,topPersonal,5,.6,.8),
  bands(0,'Leisure',cLeisure,topLeisure.concat(topLeisureExtra),6,.45,.9),
  bands(0,'Education',cEducation,topEducation,6,.7,.85),
  bands(0,'Escort Trips',cEscort,topEscort,6,.7,.8),
  bands(0,'Business',cBusiness,topBusiness,7,.65,.8),
  bands(0,'Other purposes',cOther,topOther,7,.8,.85),
  gridSeries(0), highlightSeries(0,'#dcccc8',.45),
  // bottom panel
  bands(1,'Moving',movingColor,movingBase,1,1,1),
  bands(1,'Walking',cWalk,botWalk.concat(botWalkExtra),5,.55,.85),
  bands(1,'Car/Van',cCar,botCar.concat(botCarExtra),5,.6,.85),
  bands(1,'Public transport',cPublic,botPublic.concat(botPublicExtra),6,.6,.85),
  bands(1,'Cycling',cCycle,botCycle,6,.7,.6),
  bands(1,'Other modes',cOtherMode,botOther,6,.65,.8),
  gridSeries(1), highlightSeries(1,'#dddddd',.4)
];

// ---------- page furniture ----------
const SERIF = 'Liberation Serif', SANS = 'Liberation Sans';
const gfx = [];
const text = (x,y,t,o={}) => gfx.push({type:'text', x, y, silent:true, rotation:o.rot||0, z:20, style:{text:t, align:o.align||'left', verticalAlign:'middle', fill:o.fill||'#222', fontFamily:o.family||SERIF, fontSize:o.size||16, fontWeight:o.weight||'normal'}});
text(125,16,descTitle,{align:'center',weight:'bold',fill:'#000'});
descRows.forEach((r,i)=>{
  const head = descHeads.includes(r);
  text(head?10.5:13, 41+i*18.57, r, {weight:head?'bold':'normal', fill: head?'#000': descBlue.includes(r)?'#2222cc': descRed.includes(r)?'#d42020':'#222'});
});
text(274,315.5,yLabel,{align:'center',rot:Math.PI/2,size:20});
text(22,911.5,yLabel,{align:'center',rot:Math.PI/2,size:19.4});
const rule = (x1,y1,x2,y2,stroke,dash,z=19) => gfx.push({type:'line', silent:true, z, shape:{x1,y1,x2,y2}, style:{stroke, lineWidth:1, lineDash:dash}});
rule(247.5,0,247.5,618,'#888',[3,3]);
rule(4,620.5,1051,620.5,'#555',[5,3]);
// legend box
gfx.push({type:'rect', silent:true, z:18, shape:{x:929.5,y:743.5,width:130,height:369}, style:{fill:'#fff', stroke:'#222', lineWidth:1, lineDash:[1.5,2.5]}});
text(945,757,legendActivityTitle,{family:SANS,size:12,fill:'#333'});
const swatch = (x,y,c,s=14) => gfx.push({type:'rect', silent:true, z:20, shape:{x,y:y-s/2,width:s,height:s}, style:{fill:c, stroke:'#e8e8e8', lineWidth:.6}});
const activityY = [785.5,807,828.5,850,871.5,892.5,914,935.5];
legendActivities.forEach((n,i)=>{swatch(937,activityY[i],legendActivityColors[i]); text(955.5,activityY[i],n,{family:SANS,size:11.6,fill:'#333'});});
rule(929.5,948.5,1051,948.5,'#222',[1.5,2.5],20);
swatch(936,960.5,movingColor,13); text(953.5,960.5,legendMoving,{family:SANS,size:11,fill:'#333'});
rule(929.5,969.5,1051,969.5,'#222',[1.5,2.5],20);
text(954,982.5,legendModeTitle,{family:SANS,size:11.5,fill:'#333'});
const modeY = [1011.5,1033.5,1054.5,1076.5,1097.5];
legendModes.forEach((n,i)=>{swatch(937,modeY[i],legendModeColors[i]); text(955.5,modeY[i],n,{family:SANS,size:11.6,fill:'#333'});});

const chart = echarts.init(document.getElementById('c'), null, {renderer:'canvas', width:1051, height:1177});
chart.setOption({
  animation:false,
  backgroundColor:'#fff',
  title:[
    {text:titleTop, left:666, top:19, textAlign:'center', textStyle:{fontFamily:SERIF, fontSize:20, fontWeight:'normal', color:'#222'}},
    {text:titleBottom, left:496, top:628, textAlign:'center', textStyle:{fontFamily:SERIF, fontSize:19, fontWeight:'normal', color:'#222'}}
  ],
  grid:[
    {left:300, top:97, width:741, height:473, show:true, borderColor:'#aaa', borderWidth:1, backgroundColor:'transparent'},
    {left:47, top:703, width:908, height:450, show:true, borderColor:'#aaa', borderWidth:1, backgroundColor:'transparent'}
  ],
  xAxis:[xAxisBase(0),xAxisBase(1)],
  yAxis:[yAxisBase(0),yAxisBase(1)],
  series,
  graphic:gfx
});
</script>
</body>
</html>
